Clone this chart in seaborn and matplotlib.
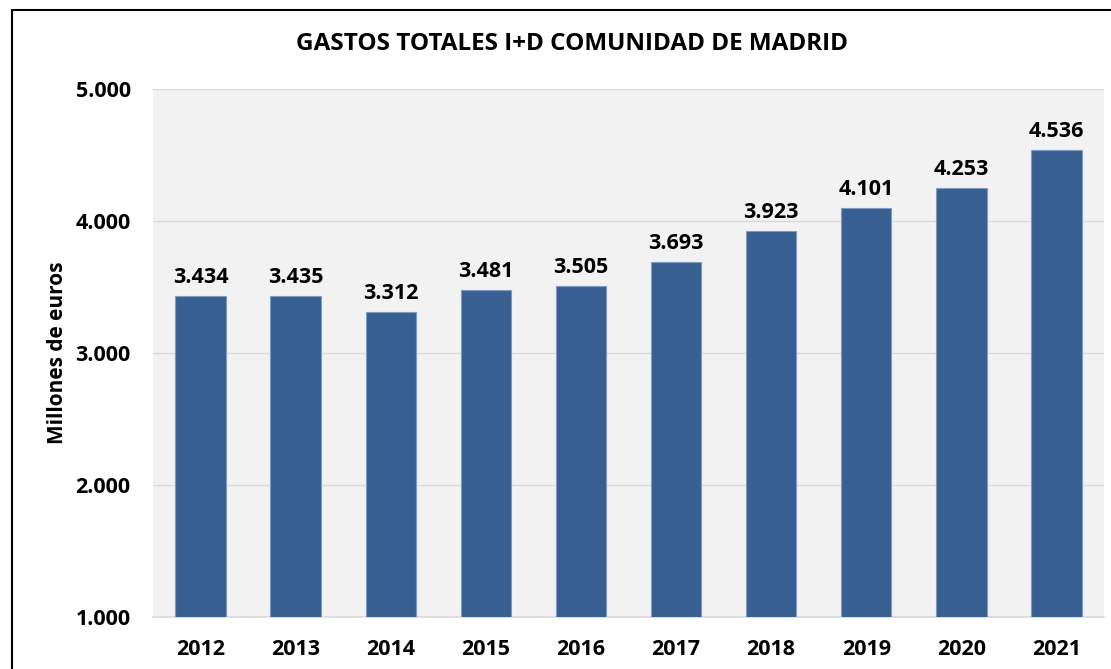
import matplotlib
matplotlib.use("Agg")
import matplotlib.pyplot as plt
import seaborn as sns
import pandas as pd
from matplotlib.lines import Line2D
from matplotlib.ticker import FuncFormatter

# Datos
years = ['2012', '2013', '2014', '2015', '2016', '2017', '2018', '2019', '2020', '2021']
gastos = [3434, 3435, 3312, 3481, 3505, 3693, 3923, 4101, 4253, 4536]
y_ticks = [1000, 2000, 3000, 4000, 5000]


def miles(v):
    return f"{int(v):,}".replace(",", ".")


def plot_chart(data):
    sns.set_style("white")
    plt.rcParams['font.family'] = ['Open Sans', 'DejaVu Sans']
    plt.rcParams['text.color'] = 'black'
    plt.rcParams['axes.labelcolor'] = 'black'
    plt.rcParams['xtick.color'] = 'black'
    plt.rcParams['ytick.color'] = 'black'

    fig = plt.figure(figsize=(11.11, 6.69), dpi=100)
    ax = fig.add_axes([153 / 1111, 1 - 617 / 669, (1104 - 153) / 1111, (617 - 89) / 669])
    ax.set_facecolor('#f2f2f2')

    sns.barplot(data=data, x='year', y='gasto', color='#375f91', width=0.53,
                edgecolor='#7f9cc0', linewidth=0.8, saturation=1, ax=ax, zorder=3)

    ax.set_ylim(1000, 5000)
    ax.set_xlim(-0.5, len(years) - 0.5)
    ax.set_yticks(y_ticks)
    ax.yaxis.set_major_formatter(FuncFormatter(lambda v, p: miles(v)))
    ax.grid(axis='y', color='#d9d9d9', linewidth=1, zorder=0)
    ax.set_axisbelow(True)
    for s in ['top', 'right', 'left']:
        ax.spines[s].set_visible(False)
    ax.spines['bottom'].set_color('#d9d9d9')
    ax.spines['bottom'].set_linewidth(1.2)
    ax.tick_params(axis='both', length=0, labelsize=15.5)
    ax.tick_params(axis='y', pad=16)
    ax.tick_params(axis='x', pad=16)
    for lbl in ax.get_xticklabels() + ax.get_yticklabels():
        lbl.set_fontweight('bold')

    ax.set_xlabel('')
    ax.set_ylabel('Millones de euros', fontsize=15, fontweight='bold')
    ax.yaxis.set_label_coords((68 - 153) / 951, 0.5)

    for i, v in enumerate(data['gasto']):
        ax.text(i, v + 60, miles(v), ha='center', va='bottom',
                fontsize=15.5, fontweight='bold')

    fig.text(572 / 1111, 1 - 44 / 669, 'GASTOS TOTALES I+D COMUNIDAD DE MADRID',
             ha='center', va='center', fontsize=17.5, fontweight='bold')

    # borde del grafico (recortado a derecha y abajo)
    fig.add_artist(Line2D([12 / 1111, 12 / 1111], [0, 1 - 10 / 669], color='black', linewidth=1.5))
    fig.add_artist(Line2D([12 / 1111, 1], [1 - 10 / 669, 1 - 10 / 669], color='black', linewidth=1.5))

    fig.savefig('out.png', dpi=100)


def main():
    data = pd.DataFrame({'year': years, 'gasto': gastos})
    plot_chart(data)


if __name__ == '__main__':
    main()
